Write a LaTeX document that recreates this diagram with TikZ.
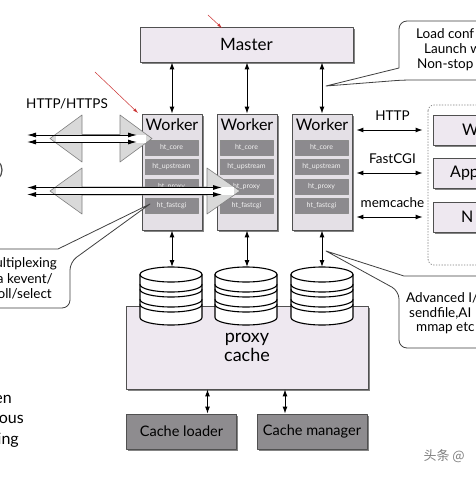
\documentclass[tikz,border=0pt]{standalone}
\usepackage{fontspec}
\setmainfont{Lato}
\newfontfamily\cjkfont{Noto Sans CJK SC}
\usetikzlibrary{arrows.meta,shadows}

\definecolor{lavender}{HTML}{EEE8F0}
\definecolor{workerfill}{HTML}{E4E0E6}
\definecolor{modfill}{HTML}{8C8A8E}
\definecolor{darkfill}{HTML}{8E8C8F}
\definecolor{edgegray}{HTML}{505050}
\definecolor{headfill}{HTML}{D9D9D9}

\tikzset{
  shadowbox/.style={draw=edgegray, line width=0.8pt, drop shadow={shadow xshift=1.5pt, shadow yshift=-1.5pt, fill=black!60, opacity=0.8}},
  masterbox/.style={shadowbox, fill=lavender, minimum width=213pt, minimum height=35pt, font=\fontsize{17}{17}\selectfont},
  workerbox/.style={shadowbox, fill=workerfill, minimum width=60pt, minimum height=116pt},
  wlabel/.style={inner sep=0pt, font=\fontsize{16}{16}\selectfont},
  modbox/.style={draw=black!45, line width=0.6pt, fill=modfill, minimum width=53pt, minimum height=15pt, inner sep=0pt, text=white!90!gray, font=\fontsize{7}{7}\selectfont},
  loaderbox/.style={shadowbox, fill=darkfill, minimum width=110pt, minimum height=35pt, font=\fontsize{14.5}{14.5}\selectfont},
  serverbox/.style={shadowbox, fill=lavender, minimum width=110pt, minimum height=30pt},
  bigtext/.style={inner sep=0pt, font=\fontsize{16}{18}\selectfont},
  midtext/.style={inner sep=0pt, font=\fontsize{13.5}{14}\selectfont},
  callout/.style={draw=black!75, fill=white, line width=0.8pt},
  link/.style={<->, line width=1pt},
  hollow/.style={draw=gray, fill=headfill, line width=0.6pt},
  thinlink/.style={{Latex[length=9pt,width=5pt]}-{Latex[length=9pt,width=5pt]}, line width=1pt},
}

\newcommand{\cachedrum}[1]{%
  \begin{scope}[shift={(#1,0)}, line width=1.1pt]
    \filldraw[fill=white] (-31,274.5) -- (-31,317.5)
      arc[start angle=180, end angle=360, x radius=31pt, y radius=7.5pt] -- (31,274.5)
      arc[start angle=0, end angle=180, x radius=31pt, y radius=7.5pt] -- cycle;
    \foreach \b in {274.5,284.5,289.5,299.5,304.5}
      \draw (-31,\b) arc[start angle=180, end angle=360, x radius=31pt, y radius=7.5pt];
  \end{scope}}

\begin{document}
\begin{tikzpicture}[line cap=round,line join=round,>={Latex[length=7pt,width=5pt]},x=1pt,y=-1pt]
\useasboundingbox (0,0) rectangle (476,477);
\clip (0,0) rectangle (476,477);
\fill[white] (0,0) rectangle (476,477);

% master and workers
\node[masterbox] (master) at (246.5,44.5) {Master};
\foreach \n/\x in {1/172,2/247,3/322} {
  \node[workerbox] (w\n) at (\x,172) {};
  \node[wlabel, anchor=north] (w\n label) at ([yshift=-5pt]w\n.north) {Worker};
  \foreach \m/\t/\y in {core/ht\_core/147.5, up/ht\_upstream/167, proxy/ht\_proxy/186.5, fcgi/ht\_fastcgi/206}
    \node[modbox] (w\n\m) at (\x-0.5,\y) {\t};
  \draw[link] (w\n.north |- master.south) -- (w\n.north);
}

% proxy cache
\node[shadowbox, fill=lavender, minimum width=242pt, minimum height=83pt, align=center, font=\fontsize{18}{19}\selectfont] (pcache) at (247,347.5) {proxy\\cache};
\foreach \n/\x in {1/171,2/246,3/322} {
  \cachedrum{\x}
  \coordinate (c\n) at (\x,267);
  \draw[link] (w\n.south) -- (w\n.south |- c\n);
}
\node[loaderbox] (loader) at (181.5,431.5) {Cache loader};
\node[loaderbox] (manager) at (312,431.5) {Cache manager};
\draw[link] ([xshift=26pt]loader.north) -- ([xshift=26pt]loader.north |- pcache.south);
\draw[link] ([xshift=-27pt]manager.north) -- ([xshift=-27pt]manager.north |- pcache.south);

% backends
\draw[dotted, gray, line width=0.8pt, rounded corners=6pt] (428,105) rectangle (540,265);
\node[serverbox] (web) at (488,130) {};
\node[serverbox] (app) at (488,173) {};
\node[serverbox] (mem) at (488,217) {};
\node[bigtext, anchor=west] at (462,130) {W};
\node[bigtext, anchor=west] at (450,173) {App};
\node[bigtext, anchor=west] at (461,217) {N};
\draw[link, shorten <=4pt, shorten >=10pt] (w3.east |- web.west) -- node[midtext, above=9pt] {HTTP} (web.west);
\draw[link, shorten <=4pt, shorten >=10pt] (w3.east |- app.west) -- node[midtext, above=9pt] {FastCGI} (app.west);
\draw[link, shorten <=4pt, shorten >=10pt] (w3.east |- mem.west) -- node[midtext, above=9pt] {memcache} (mem.west);

% client side
\node[midtext] (proto) at (67,104) {HTTP/HTTPS};
\draw[hollow] (50,138.5) -- (82,115) -- (82,134.5) -- (120,134.5) -- (120,115) -- (152,138.5) -- (120,162) -- (120,142.5) -- (82,142.5) -- (82,162) -- cycle;
\fill[white] (56,134.5) rectangle (146,142.5);
\coordinate (a1l) at (27,135); \coordinate (a1r) at (137,135);
\coordinate (b1l) at (27,142); \coordinate (b1r) at (137,142);
\draw[thinlink] (a1l) -- (a1r);
\draw[thinlink] (b1l) -- (b1r);
\draw[hollow] (50,191) -- (82,168) -- (82,187) -- (207,187) -- (207,168) -- (240,191) -- (207,214) -- (207,195) -- (82,195) -- (82,214) -- cycle;
\fill[white] (56,187) rectangle (234,195);
\coordinate (a2l) at (27,187.5); \coordinate (a2r) at (222,187.5);
\coordinate (b2l) at (27,194.5); \coordinate (b2r) at (222,194.5);
\draw[thinlink] (a2l) -- (a2r);
\draw[thinlink] (b2l) -- (b2r);
\draw[gray!60!black, line width=1.2pt] (-10,170) circle (12pt);

% callouts
\coordinate (tipload) at (326,86);
\draw[callout] (tipload) -- (399,68) [rounded corners=8pt] -- (399,21) -- (500,21) -- (500,80) -- (403,80) [sharp corners] -- cycle;
\node[midtext, anchor=west] (load1) at (416,34) {Load conf};
\node[midtext, anchor=west] (load2) at (424,49) {Launch w};
\node[midtext, anchor=west] (load3) at (417,65) {Non-stop};

\coordinate (tipio) at (326,251);
\draw[callout] (tipio) -- (404,276) [rounded corners=8pt] -- (500,276) -- (500,348) -- (399,348) -- (399,291) [sharp corners] -- cycle;
\node[midtext, anchor=west] (io1) at (406,298) {Advanced I/};
\node[midtext, anchor=west] (io2) at (409,313) {sendfile,AI};
\node[midtext, anchor=west] (io3) at (416,328) {mmap etc};

\coordinate (tipmux) at (150,204);
\draw[callout] (tipmux) -- (58,249) [rounded corners=8pt] -- (-30,249) -- (-30,308) -- (70,308) -- (70,262) [sharp corners] -- cycle;
\node[midtext, anchor=east] (mux1) at (57,264) {ultiplexing};
\node[midtext, anchor=east] (mux2) at (53,279) {a kevent/};
\node[midtext, anchor=east] (mux3) at (52,294) {oll/select};

\node[bigtext, anchor=east] (left1) at (12,399) {en};
\node[bigtext, anchor=east] (left2) at (24,419) {ous};
\node[bigtext, anchor=east] (left3) at (19,440) {ing};

% marks
\coordinate (m1s) at (208,15); \coordinate (m1e) at (222,28);
\coordinate (m2s) at (95,72); \coordinate (m2e) at (138,113);
\draw[->, >={Latex[length=5pt,width=3pt]}, red!60!gray, line width=0.5pt] (m1s) -- (m1e);
\draw[->, >={Latex[length=5pt,width=3pt]}, red!60!gray, line width=0.5pt] (m2s) -- (m2e);
\node[anchor=west, text=gray, font=\cjkfont\fontsize{13}{13}\selectfont] (mark) at (420,456) {头条 @};
\end{tikzpicture}
\end{document}
